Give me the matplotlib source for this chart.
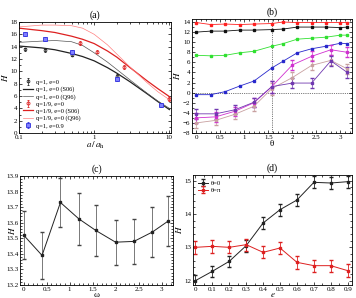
import numpy as np
import matplotlib
matplotlib.use("Agg")
import matplotlib.pyplot as plt
from matplotlib.ticker import AutoMinorLocator

plt.rcParams['font.family'] = ['Liberation Serif', 'DejaVu Serif']
plt.rcParams['mathtext.fontset'] = 'stix'
plt.rcParams['font.size'] = 5

# ---- panel (a) data
a_pts = [0.12, 0.22, 0.5, 2.0, 7.8]
H_q1_e0 = [13.6, 13.4, 12.7, 9.3, 4.5]
H_q1_e09 = [16.0, 15.2, 13.1, 8.8, 4.5]
a_red = [0.65, 1.1, 2.5, 10.0]
H_q19_e0 = [14.6, 13.2, 10.7, 5.5]
a_curve = [0.1, 0.2, 0.3, 0.5, 0.7, 1, 1.5, 2, 3, 5, 7, 10]
S06_q1 = [14.1, 13.8, 13.5, 12.9, 12.4, 11.7, 10.6, 9.7, 8.3, 6.4, 5.1, 3.8]
Q96_q1 = [14.7, 14.9, 15.0, 14.8, 14.2, 13.0, 11.5, 10.3, 8.6, 6.5, 5.2, 4.0]
S06_q19 = [17.0, 16.6, 16.3, 15.7, 15.2, 14.5, 13.3, 12.3, 10.6, 8.5, 7.2, 5.9]
Q96_q19 = [17.2, 17.5, 17.5, 17.4, 17.0, 16.0, 14.3, 12.8, 10.7, 8.2, 6.7, 5.4]

# ---- panel (b) data
th_up = [0, 0.3, 0.6, 0.9, 1.2, 1.571, 1.8, 2.1, 2.4, 2.7, 3.0, 3.1416]
b_red = [13.9, 13.5, 13.6, 13.5, 13.6, 13.7, 14.0, 13.9, 13.9, 13.9, 13.9, 13.9]
b_black = [12.0, 12.2, 12.2, 12.4, 12.4, 12.5, 12.6, 13.0, 13.0, 13.0, 12.9, 13.0]
b_green = [7.4, 7.3, 7.4, 7.9, 8.2, 9.2, 9.7, 10.6, 10.8, 11.0, 11.4, 11.4]
b_blue = [-0.4, -0.4, 0.2, 1.3, 2.3, 4.9, 6.2, 7.9, 8.7, 9.2, 9.8, 9.7]
th_low = [0, 0.4, 0.8, 1.2, 1.571, 2.0, 2.4, 2.8, 3.1416]
b_magenta = [-5.0, -4.8, -3.7, -2.0, 1.2, 5.5, 7.2, 8.5, 8.0]
b_tan = [-6.0, -5.5, -4.3, -2.7, 0.8, 3.0, 5.4, 6.4, 4.7]
b_purple = [-4.2, -4.2, -3.4, -1.9, 1.2, 1.9, 1.9, 6.3, 4.0]
b_err = [1.0, 1.0, 0.9, 0.9, 1.2, 1.0, 1.0, 1.0, 1.0]

# ---- panel (c) data
omega = [0, 0.4, 0.8, 1.2, 1.571, 2.0, 2.4, 2.8, 3.1416]
H_c = [13.52, 13.39, 13.73, 13.625, 13.55, 13.475, 13.48, 13.54, 13.61]
H_c_err = [0.155, 0.15, 0.16, 0.165, 0.165, 0.145, 0.145, 0.16, 0.16]

# ---- panel (d) data
ecc = [0, 0.1, 0.2, 0.3, 0.4, 0.5, 0.6, 0.7, 0.8, 0.9]
H_th0 = [12.0, 12.28, 12.58, 13.05, 13.73, 14.13, 14.42, 14.95, 14.93, 14.97]
H_th0_err = [0.17, 0.17, 0.17, 0.18, 0.18, 0.18, 0.18, 0.18, 0.18, 0.18]
H_thpi = [13.0, 13.03, 13.0, 13.08, 12.85, 12.98, 12.55, 12.45, 12.45, 12.3]
H_thpi_err = [0.2, 0.2, 0.18, 0.18, 0.18, 0.18, 0.2, 0.18, 0.18, 0.2]

W, Hh = 356, 298
fig = plt.figure(figsize=(W / 100, Hh / 100), dpi=100)


def px_axes(x0, y0, x1, y1):
    return fig.add_axes([x0 / W, 1 - y1 / Hh, (x1 - x0) / W, (y1 - y0) / Hh])


def style(ax):
    ax.tick_params(which='both', direction='in', top=True, right=True,
                   labelsize=5, pad=1.2, width=0.5)
    ax.tick_params(which='major', length=2.5)
    ax.tick_params(which='minor', length=1.3)
    for s in ax.spines.values():
        s.set_linewidth(0.6)


# (a)
ax = px_axes(19, 22, 171, 133)
ax.set_xscale('log')
ax.plot(a_curve, S06_q1, color='#222222', lw=0.9, label='q=1, e=0 (S06)')
ax.plot(a_curve, Q96_q1, color='#555555', lw=0.5, label='q=1, e=0 (Q96)')
ax.plot(a_curve, S06_q19, color='#dd2020', lw=0.9, label='q=1/9, e=0 (S06)')
ax.plot(a_curve, Q96_q19, color='#ff8080', lw=0.5, label='q=1/9, e=0 (Q96)')
ax.errorbar(a_pts, H_q1_e0, yerr=0.25, fmt='o', ms=2, color='#222222',
            mfc='none', mew=0.6, elinewidth=0.5, capsize=1, label='q=1, e=0')
ax.errorbar(a_red, H_q19_e0, yerr=0.3, fmt='o', ms=2.2, color='#dd2020',
            mfc='none', mew=0.6, elinewidth=0.5, capsize=1, label='q=1/9, e=0')
ax.errorbar(a_pts, H_q1_e09, yerr=0.3, fmt='s', ms=2.2, color='#3030dd',
            mfc='#8080ff', mew=0.6, elinewidth=0.5, capsize=1, label='q=1, e=0.9')
ax.set_xlim(0.1, 10.5)
ax.set_ylim(0, 18)
ax.set_yticks(range(0, 19, 2))
ax.yaxis.set_minor_locator(AutoMinorLocator(2))
ax.set_xticks([0.1, 1, 10])
ax.set_xticklabels(['0.1', '1', '10'])
ax.set_xlabel('$a\\,/\\,a_{\\rm h}$', fontsize=6.5, labelpad=0)
ax.set_ylabel('$H$', fontsize=6.5, labelpad=0.5)
ax.set_title('(a)', fontsize=7, pad=3)
h, l = ax.get_legend_handles_labels()
order = ['q=1, e=0', 'q=1, e=0 (S06)', 'q=1, e=0 (Q96)', 'q=1/9, e=0',
         'q=1/9, e=0 (S06)', 'q=1/9, e=0 (Q96)', 'q=1, e=0.9']
hd = dict(zip(l, h))
ax.legend([hd[k] for k in order], order, loc='lower left', fontsize=4.6,
          frameon=False, handlelength=1.5, labelspacing=0.25,
          borderaxespad=0.3, handletextpad=0.5)
style(ax)

# (b)
ax = px_axes(192, 19, 352, 133)
ax.axvline(np.pi / 2, color='k', lw=0.5, ls=':')
ax.axhline(0, color='k', lw=0.5, ls=':')
kw = dict(ms=2, lw=0.6, marker='s')
ax.plot(th_up, b_red, color='#ff2020', **kw)
ax.plot(th_up, b_black, color='#111111', **kw)
ax.plot(th_up, b_green, color='#30e030', **kw)
ax.plot(th_up, b_blue, color='#2828cc', **kw)
ekw = dict(ms=2, lw=0.6, marker='s', elinewidth=0.5, capsize=1.5)
ax.errorbar(th_low, b_tan, yerr=b_err, color='#c8a0a0', **ekw)
ax.errorbar(th_low, b_magenta, yerr=b_err, color='#d030d0', **ekw)
ax.errorbar(th_low, b_purple, yerr=b_err, color='#7038b0', **ekw)
ax.set_xlim(-0.09, 3.24)
ax.set_ylim(-8, 14.6)
ax.set_yticks(range(-8, 15, 2))
ax.set_xticks([0, 0.5, 1, 1.5, 2, 2.5, 3])
ax.set_xticklabels(['0', '0.5', '1', '1.5', '2', '2.5', '3'])
ax.xaxis.set_minor_locator(AutoMinorLocator(5))
ax.yaxis.set_minor_locator(AutoMinorLocator(2))
ax.set_xlabel('θ', fontsize=6.5, labelpad=0)
ax.set_ylabel('$H$', fontsize=6.5, labelpad=0.5)
ax.set_title('(b)', fontsize=7, pad=3)
style(ax)

# (c)
ax = px_axes(20, 176, 173, 285)
ax.errorbar(omega, H_c, yerr=H_c_err, color='#222222', marker='s', ms=1.5,
            lw=0.7, elinewidth=0.5, capsize=1.5, ecolor='#444444')
ax.set_xlim(-0.08, 3.25)
ax.set_ylim(13.2, 13.9)
ax.set_yticks(np.arange(13.2, 13.91, 0.1))
ax.set_yticklabels(['13.2', '13.3', '13.4', '13.5', '13.6', '13.7', '13.8', '13.9'])
ax.set_xticks([0, 0.5, 1, 1.5, 2, 2.5, 3])
ax.set_xticklabels(['0', '0.5', '1', '1.5', '2', '2.5', '3'])
ax.xaxis.set_minor_locator(AutoMinorLocator(5))
ax.yaxis.set_minor_locator(AutoMinorLocator(5))
ax.set_xlabel('ω', fontsize=6.5, labelpad=-0.5)
ax.set_ylabel('$H$', fontsize=6.5)
ax.yaxis.set_label_coords(-0.02, 0.5)
ax.set_title('(c)', fontsize=7, pad=3)
style(ax)

# (d)
ax = px_axes(193, 175, 352, 285)
ax.errorbar(ecc, H_th0, yerr=H_th0_err, color='#222222', marker='s', ms=1.8,
            lw=0.7, elinewidth=0.6, capsize=1.5, label='θ=0')
ax.errorbar(ecc, H_thpi, yerr=H_thpi_err, color='#dd2020', marker='s', ms=1.8,
            lw=0.7, elinewidth=0.6, capsize=1.5, label='θ=π')
ax.set_xlim(-0.014, 0.925)
ax.set_ylim(11.87, 15.17)
ax.set_yticks([12, 13, 14, 15])
ax.set_xticks(ecc)
ax.set_xticklabels(['0', '0.1', '0.2', '0.3', '0.4', '0.5', '0.6', '0.7', '0.8', '0.9'])
ax.xaxis.set_minor_locator(AutoMinorLocator(2))
ax.yaxis.set_minor_locator(AutoMinorLocator(5))
ax.set_xlabel('$e$', fontsize=6.5, labelpad=-0.5)
ax.set_ylabel('$H$', fontsize=6.5, labelpad=0.5)
ax.set_title('(d)', fontsize=7, pad=3)
ax.legend(loc='upper left', fontsize=4.8, frameon=False, handlelength=1.5,
          labelspacing=0.2, borderaxespad=0.4, handletextpad=0.3)
style(ax)

fig.savefig('out.png', dpi=100)
